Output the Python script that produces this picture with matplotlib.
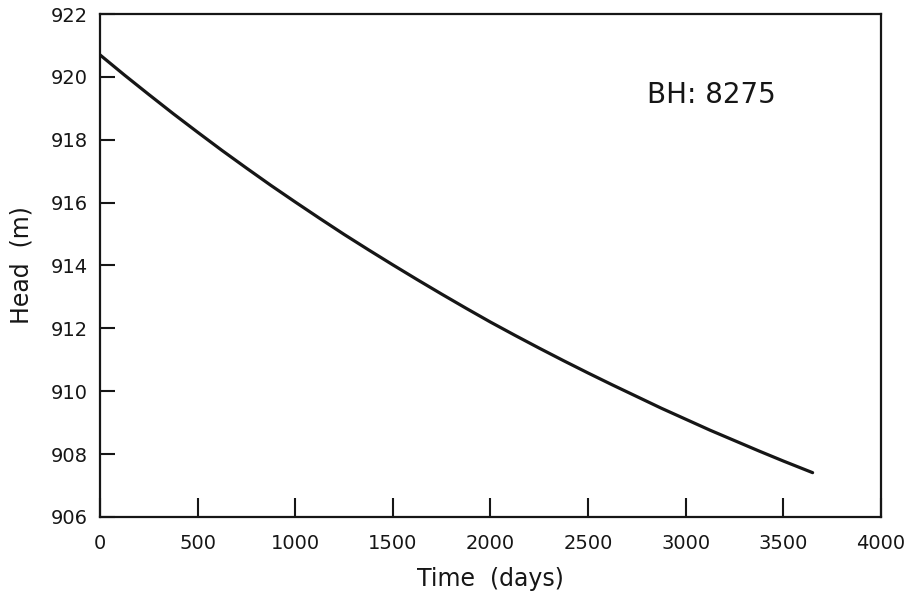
import matplotlib
matplotlib.use("Agg")
import matplotlib.pyplot as plt

# Simulated hydraulic head at borehole BH 8275 over ten years
time_days = [0, 125, 250, 375, 500, 625, 750, 875, 1000, 1125, 1250, 1375,
             1500, 1625, 1750, 1875, 2000, 2125, 2250, 2375, 2500, 2625,
             2750, 2875, 3000, 3125, 3250, 3375, 3500, 3650]
head_m = [920.70, 920.06, 919.44, 918.83, 918.24, 917.66, 917.10, 916.55,
          916.02, 915.50, 914.99, 914.50, 914.02, 913.55, 913.09, 912.64,
          912.20, 911.78, 911.37, 910.97, 910.58, 910.20, 909.83, 909.46,
          909.11, 908.76, 908.43, 908.10, 907.78, 907.41]

x_ticks = [0, 500, 1000, 1500, 2000, 2500, 3000, 3500, 4000]
y_ticks = [906, 908, 910, 912, 914, 916, 918, 920, 922]

ink = "#161616"
plt.rcParams["font.family"] = ["DejaVu Sans"]

fig = plt.figure(figsize=(9.24, 6.01), dpi=100)
ax = fig.add_axes([0.1082, 0.1398, 0.8452, 0.8369])

ax.plot(time_days, head_m, color=ink, lw=2.3, solid_capstyle="round",
        solid_joinstyle="round")

ax.set_xlim(0, 4000)
ax.set_ylim(906, 922)
ax.set_xticks(x_ticks)
ax.set_yticks(y_ticks)

for side in ax.spines.values():
    side.set_linewidth(1.6)
    side.set_color(ink)

ax.tick_params(axis="x", direction="in", length=14, width=1.5, pad=12,
               labelsize=14, colors=ink)
ax.tick_params(axis="y", direction="in", length=11, width=1.5, pad=9,
               labelsize=14, colors=ink)

ax.set_xlabel("Time  (days)", fontsize=17, color=ink, labelpad=10)
ax.set_ylabel("Head  (m)", fontsize=17, color=ink, labelpad=12)

ax.text(2800, 919.42, "BH: 8275", fontsize=20, color=ink,
        ha="left", va="center")

fig.savefig("out.png", dpi=100, facecolor="white")
